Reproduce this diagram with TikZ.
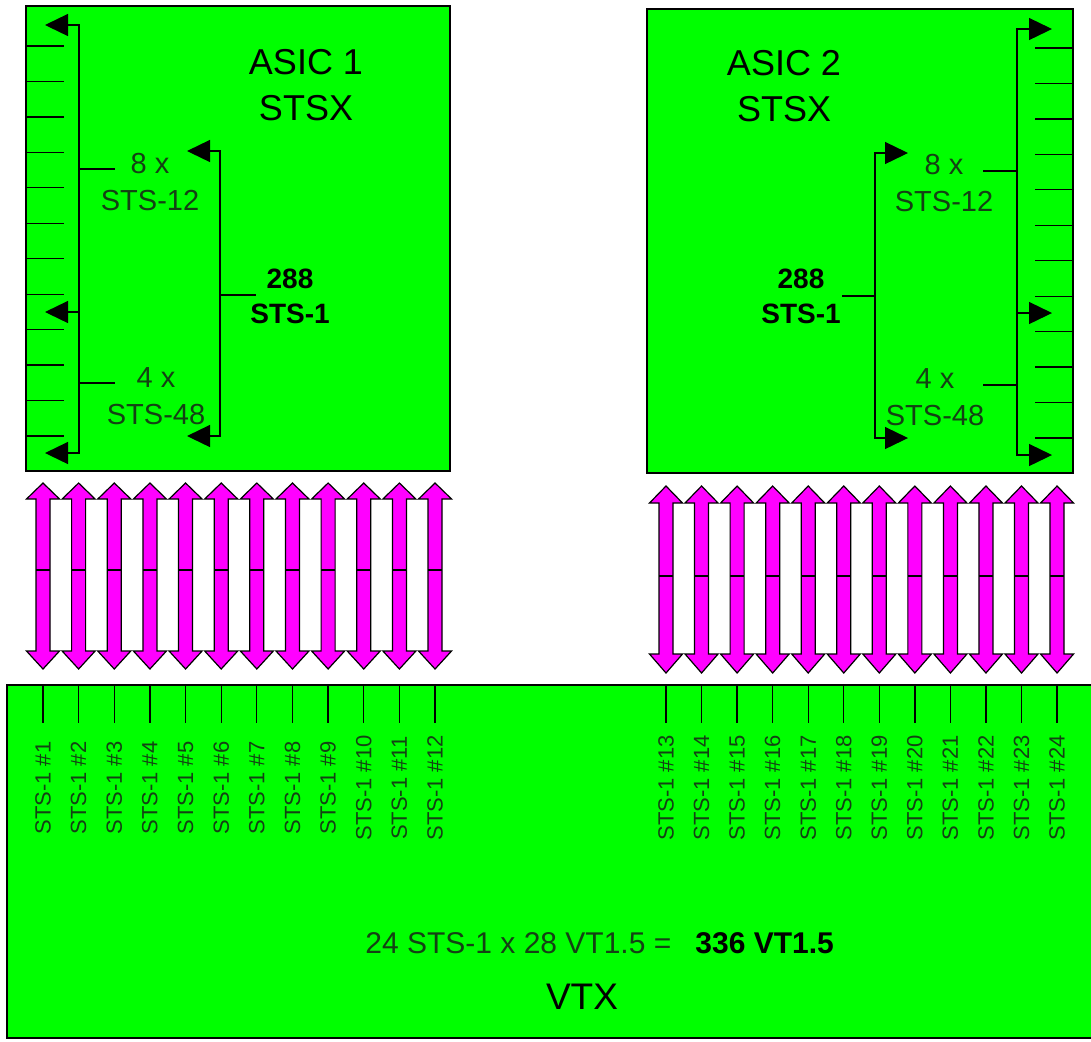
\documentclass[tikz,border=0pt]{standalone}
\usepackage{fontspec}
\setmainfont{Liberation Sans}
\usetikzlibrary{arrows.meta}
\definecolor{chipgreen}{RGB}{0,255,0}
\definecolor{linkpink}{RGB}{255,0,255}
\definecolor{thintext}{RGB}{20,65,20}
\tikzstyle{chip}=[draw=black,line width=1.3pt,fill=chipgreen]
\tikzstyle{bus}=[draw=black,line width=0.65pt]
\tikzstyle{link}=[draw=black,line width=0.6pt,fill=linkpink]
\tikzstyle{title}=[font=\fontsize{18}{23}\selectfont,align=center,inner sep=0pt]
\tikzstyle{thinlbl}=[text=thintext,font=\fontsize{14.5}{18.5}\selectfont,
                     align=center,inner sep=0pt]
\tikzstyle{boldlbl}=[font=\fontsize{14}{17.5}\selectfont\bfseries,
                     align=center,inner sep=0pt]
\tikzstyle{portlbl}=[text=thintext,font=\fontsize{11}{13}\selectfont,
                     rotate=90,inner sep=0pt]

\begin{document}
\begin{tikzpicture}[x=0.5pt,y=-0.5pt,
    >={Triangle[length=11.5pt,width=11pt]}]
  \newcommand{\duplex}[6]{%
    \filldraw[link] (#1,#2) -- (#1+16.5,#3) -- (#1+7,#3) -- (#1+7,#5)
      -- (#1+16.5,#5) -- (#1,#6) -- (#1-16.5,#5) -- (#1-7,#5)
      -- (#1-7,#3) -- (#1-16.5,#3) -- cycle;
    \draw[bus] (#1-7,#4) -- (#1+7,#4);}
  \useasboundingbox (0,0) rectangle (1091,1041);
  \fill[white] (0,0) rectangle (1091,1041);

  % ASIC 1
  \draw[chip] (26,6) rectangle (450,471);
  \foreach \i in {0,...,11}
    \draw[bus] (26,46+35.45*\i) -- (64,46+35.45*\i);
  \node[title] (asic1) at (306,85) {ASIC 1\\STSX};
  \node[thinlbl] (sts12a) at (150,182) {8 x\\STS-12};
  \node[thinlbl] (sts48a) at (156,396) {4 x\\STS-48};
  \node[boldlbl] (sum1) at (290,296) {288\\STS-1};
  \coordinate (outa) at (79,25);
  \coordinate (ina) at (220,151);
  \draw[bus,<->] (45,25) -- (outa) -- (79,453) -- (45,453);
  \draw[bus,->] (79,312) -- (45,312);
  \draw[bus,<->] (187,151) -- (ina) -- (220,436) -- (187,436);
  \draw[bus] (outa |- 0,169) -- (115,169);
  \draw[bus] (outa |- 0,383) -- (115,383);
  \draw[bus] (ina |- 0,295) -- (256,295);

  % ASIC 2
  \draw[chip] (647,9) rectangle (1073,473);
  \foreach \i in {0,...,11}
    \draw[bus] (1035,48+35.45*\i) -- (1073,48+35.45*\i);
  \node[title] (asic2) at (784,86) {ASIC 2\\STSX};
  \node[thinlbl] (sts12b) at (944,183) {8 x\\STS-12};
  \node[thinlbl] (sts48b) at (935,397) {4 x\\STS-48};
  \node[boldlbl] (sum2) at (801,296) {288\\STS-1};
  \coordinate (outb) at (1017,29);
  \coordinate (inb) at (875,153);
  \draw[bus,<->] (1052,29) -- (outb) -- (1017,455) -- (1052,455);
  \draw[bus,->] (1017,313) -- (1052,313);
  \draw[bus,<->] (908,153) -- (inb) -- (875,438) -- (908,438);
  \draw[bus] (outb |- 0,171) -- (983,171);
  \draw[bus] (outb |- 0,385) -- (983,385);
  \draw[bus] (inb |- 0,296) -- (842,296);

  % links
  \foreach \i in {0,...,11} {
    \duplex{43+35.64*\i}{483}{499}{570}{651}{669}
  }
  \foreach \i in {0,...,11} {
    \duplex{666+35.55*\i}{486}{503}{576}{654}{673}
  }

  % VTX
  \draw[chip] (7,685) rectangle (1100,1038);
  \foreach \i in {1,...,12} {
    \draw[bus] (43+35.64*\i-35.64,685) -- ++(0,38);
    \node[portlbl] (port\i) at (43+35.64*\i-35.64,788) {STS-1 \#\i};
  }
  \foreach \i in {13,...,24} {
    \draw[bus] (666+35.55*\i-462.15,685) -- ++(0,38);
    \node[portlbl] (port\i) at (666+35.55*\i-462.15,788) {STS-1 \#\i};
  }
  \node[text=thintext,font=\fontsize{15}{18}\selectfont,anchor=west,
        inner sep=0pt] (calc) at (365,943) {24 STS-1 x 28 VT1.5 =};
  \node[font=\fontsize{15}{18}\selectfont\bfseries,anchor=west,
        inner sep=0pt] (total) at (695,943) {336 VT1.5};
  \node[font=\fontsize{18.5}{22}\selectfont] (vtx) at (582,997) {VTX};
\end{tikzpicture}
\end{document}
